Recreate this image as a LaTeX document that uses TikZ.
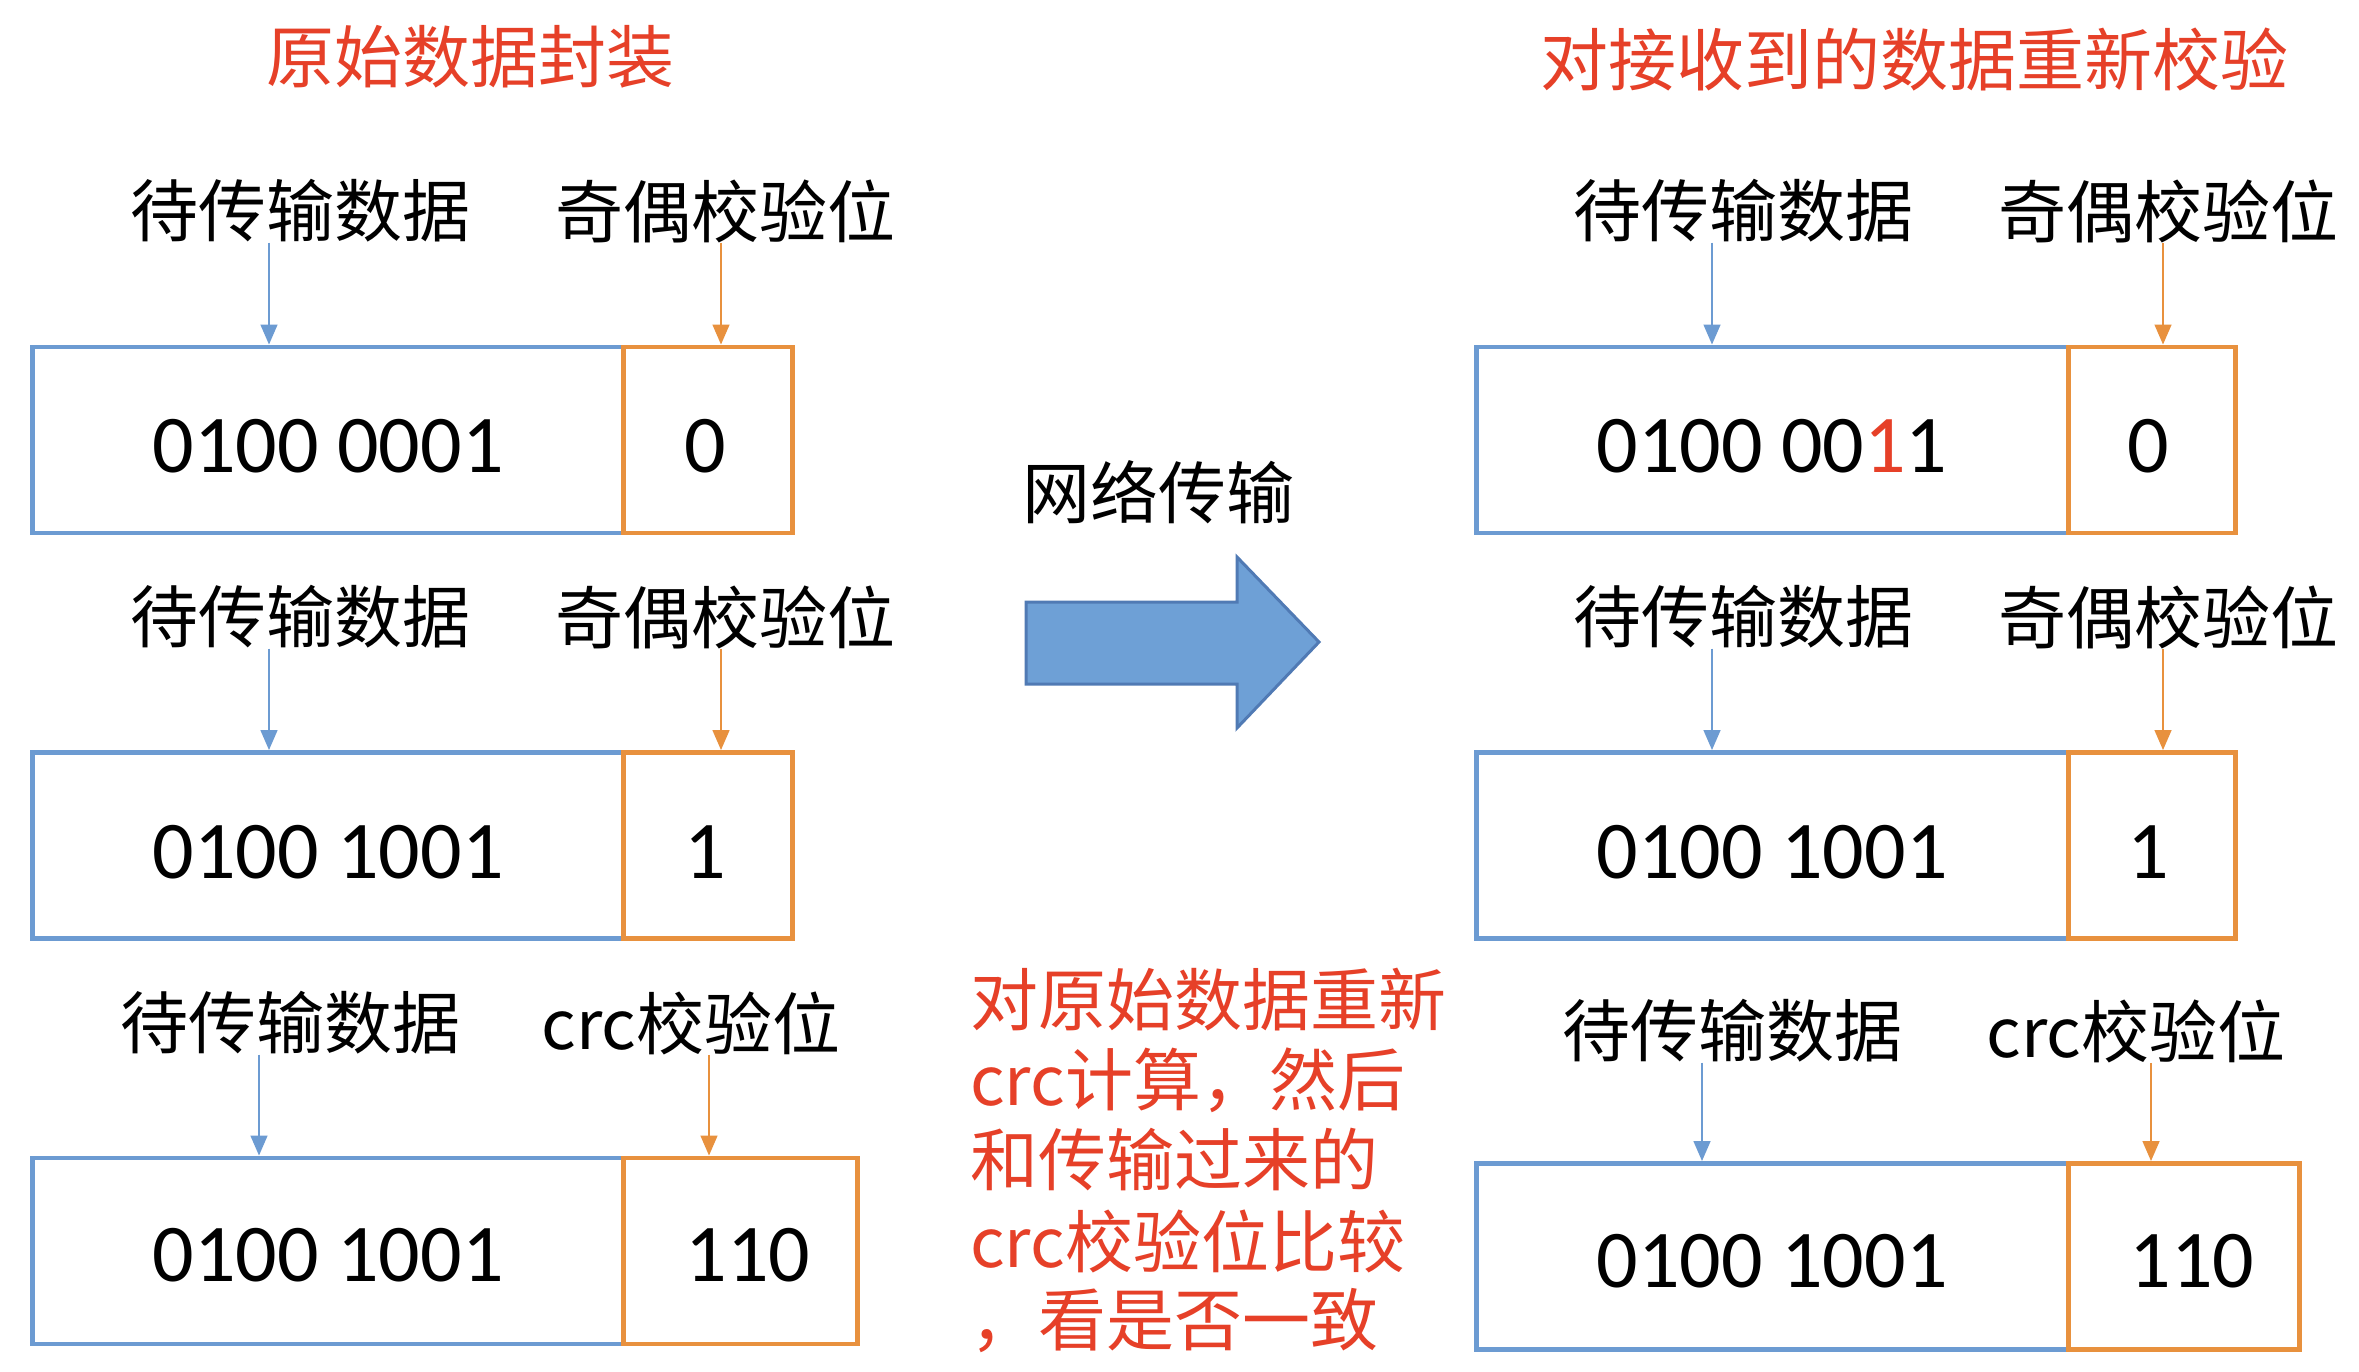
\documentclass[tikz,border=0pt]{standalone}
\usepackage{fontspec}
\setmainfont{Carlito}
\newfontfamily\cjk{Noto Sans CJK SC}
\usetikzlibrary{arrows.meta}
\definecolor{boxblue}{RGB}{108,155,210}
\definecolor{boxorange}{RGB}{232,145,62}
\definecolor{titlered}{RGB}{230,64,40}
\definecolor{arrowfill}{RGB}{110,160,214}
\definecolor{arrowedge}{RGB}{80,122,180}
\tikzset{
  databox/.style={rectangle, draw=boxblue, line width=4.5pt, anchor=north west, inner sep=0pt, minimum height=186pt},
  paritybox/.style={rectangle, draw=boxorange, line width=4.5pt, anchor=north west, inner sep=0pt, minimum height=186pt},
  cjklabel/.style={font=\cjk\fontsize{68}{80}\selectfont, inner sep=0pt},
  bits/.style={font=\fontsize{82}{98}\selectfont, anchor=base, inner sep=0pt},
  blueptr/.style={draw=boxblue, line width=1.5pt, -{Triangle[width=17pt,length=20pt]}},
  orangeptr/.style={draw=boxorange, line width=1.5pt, -{Triangle[width=17pt,length=20pt]}},
  redline/.style={font=\cjk\fontsize{68}{80}\selectfont, text=titlered, inner sep=0pt, anchor=west},
}
\begin{document}
\begin{tikzpicture}[x=1pt,y=-1pt]
\useasboundingbox[fill=white] (0,0) rectangle (2359,1371);

% titles
\node[cjklabel, text=titlered] (tl) at (470,57) {原始数据封装};
\node[cjklabel, text=titlered] (tr) at (1914,60) {对接收到的数据重新校验};

% ---------- left column ----------
% row 1
\node[databox, minimum width=591pt] (L1b) at (30,344.5) {};
\node[paritybox, minimum width=169pt] (L1p) at (621,344.5) {};
\node[bits] (L1bt) at (328,472) {0100 0001};
\node[bits] (L1pt) at (705,472) {0};
\node[cjklabel] (L1dl) at (300,211) {待传输数据};
\node[cjklabel] (L1pl) at (725,211) {奇偶校验位};
\coordinate (L1da) at (269,344.5);
\coordinate (L1pa) at (721,344.5);
\draw[blueptr] (L1dl.south -| L1da) -- (L1da);
\draw[orangeptr] (L1pl.south -| L1pa) -- (L1pa);

% row 2
\node[databox, minimum width=591pt] (L2b) at (30,750) {};
\node[paritybox, minimum width=169pt] (L2p) at (621,750) {};
\node[bits] (L2bt) at (328,878) {0100 1001};
\node[bits] (L2pt) at (705,878) {1};
\node[cjklabel] (L2dl) at (300,617) {待传输数据};
\node[cjklabel] (L2pl) at (725,617) {奇偶校验位};
\coordinate (L2da) at (269,750);
\coordinate (L2pa) at (721,750);
\draw[blueptr] (L2dl.south -| L2da) -- (L2da);
\draw[orangeptr] (L2pl.south -| L2pa) -- (L2pa);

% row 3
\node[databox, minimum width=591pt] (L3b) at (30,1155.5) {};
\node[paritybox, minimum width=234pt] (L3p) at (621,1155.5) {};
\node[bits] (L3bt) at (328,1281) {0100 1001};
\node[bits] (L3pt) at (748,1281) {110};
\node[cjklabel] (L3dl) at (290,1023) {待传输数据};
\node[cjklabel] (L3pl) at (691,1023) {crc校验位};
\coordinate (L3da) at (259,1155.5);
\coordinate (L3pa) at (709,1155.5);
\draw[blueptr] (L3dl.south -| L3da) -- (L3da);
\draw[orangeptr] (L3pl.south -| L3pa) -- (L3pa);

% ---------- middle ----------
\node[cjklabel] (net) at (1158,492) {网络传输};
\draw[fill=arrowfill, draw=arrowedge, line width=3pt, line join=miter]
  (1026,602) -- (1237,602) -- (1237,557) -- (1319,642) -- (1237,728) -- (1237,684) -- (1026,684) -- cycle;

\node[redline] (n1) at (970,1000) {对原始数据重新};
\node[redline] (n2) at (970,1080) {crc计算，然后};
\node[redline] (n3) at (970,1160) {和传输过来的};
\node[redline] (n4) at (970,1241) {crc校验位比较};
\node[redline] (n5) at (970,1321) {，看是否一致};

% ---------- right column ----------
% row 1
\node[databox, minimum width=592pt] (R1b) at (1474,344.5) {};
\node[paritybox, minimum width=167pt] (R1p) at (2066,344.5) {};
\node[bits] (R1bt) at (1772,472) {0100 00{\color{titlered}1}1};
\node[bits] (R1pt) at (2148,472) {0};
\node[cjklabel] (R1dl) at (1743,211) {待传输数据};
\node[cjklabel] (R1pl) at (2168,211) {奇偶校验位};
\coordinate (R1da) at (1712,344.5);
\coordinate (R1pa) at (2163,344.5);
\draw[blueptr] (R1dl.south -| R1da) -- (R1da);
\draw[orangeptr] (R1pl.south -| R1pa) -- (R1pa);

% row 2
\node[databox, minimum width=592pt] (R2b) at (1474,750) {};
\node[paritybox, minimum width=167pt] (R2p) at (2066,750) {};
\node[bits] (R2bt) at (1772,878) {0100 1001};
\node[bits] (R2pt) at (2148,878) {1};
\node[cjklabel] (R2dl) at (1743,617) {待传输数据};
\node[cjklabel] (R2pl) at (2168,617) {奇偶校验位};
\coordinate (R2da) at (1712,750);
\coordinate (R2pa) at (2163,750);
\draw[blueptr] (R2dl.south -| R2da) -- (R2da);
\draw[orangeptr] (R2pl.south -| R2pa) -- (R2pa);

% row 3
\node[databox, minimum width=592pt] (R3b) at (1474,1161) {};
\node[paritybox, minimum width=231pt] (R3p) at (2066,1161) {};
\node[bits] (R3bt) at (1772,1287) {0100 1001};
\node[bits] (R3pt) at (2192,1287) {110};
\node[cjklabel] (R3dl) at (1732,1031) {待传输数据};
\node[cjklabel] (R3pl) at (2136,1031) {crc校验位};
\coordinate (R3da) at (1702,1161);
\coordinate (R3pa) at (2151,1161);
\draw[blueptr] (R3dl.south -| R3da) -- (R3da);
\draw[orangeptr] (R3pl.south -| R3pa) -- (R3pa);
\end{tikzpicture}
\end{document}
